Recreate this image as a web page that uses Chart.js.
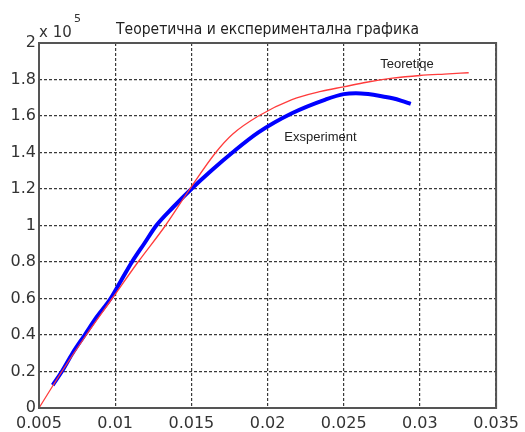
<!DOCTYPE html>
<html>
<head>
<meta charset="utf-8">
<script src="https://cdn.jsdelivr.net/npm/chart.js@4/dist/chart.umd.min.js"></script>
<style>
  html, body { margin: 0; padding: 0; background: #fff; }
  #wrap { width: 525px; height: 432px; position: relative; }
</style>
</head>
<body>
<div id="wrap"><canvas id="c" width="525" height="432"></canvas></div>
<script>
// Strain (x) and stress in units of 10^5 (y)
const theoryX = [0.005, 0.0065, 0.0081, 0.0098, 0.0115, 0.0133, 0.0149, 0.0166, 0.0177, 0.0194, 0.0216, 0.0235, 0.025, 0.0265, 0.0282, 0.030, 0.0316, 0.0332];
const theoryY = [0, 0.2, 0.4, 0.6, 0.8, 1.0, 1.2, 1.4, 1.5, 1.6, 1.69, 1.735, 1.76, 1.785, 1.807, 1.822, 1.83, 1.837];

const experimentX = [0.0059, 0.0065, 0.0072, 0.0080, 0.0088, 0.0097, 0.0104, 0.0111, 0.0119, 0.0127, 0.0138, 0.015, 0.0163, 0.0177, 0.0194, 0.0216, 0.0238, 0.025, 0.0258, 0.0266, 0.0274, 0.0282, 0.0288, 0.0294];
const experimentY = [0.126, 0.2, 0.3, 0.4, 0.5, 0.6, 0.7, 0.8, 0.9, 1.0, 1.1, 1.2, 1.3, 1.4, 1.51, 1.615, 1.69, 1.72, 1.725, 1.72, 1.71, 1.697, 1.683, 1.666];

const xTicks = [0.005, 0.01, 0.015, 0.02, 0.025, 0.03, 0.035];
const xTickLabels = ['0.005', '0.01', '0.015', '0.02', '0.025', '0.03', '0.035'];
const yTicks = [0, 0.2, 0.4, 0.6, 0.8, 1, 1.2, 1.4, 1.6, 1.8, 2];
const yTickLabels = ['0', '0.2', '0.4', '0.6', '0.8', '1', '1.2', '1.4', '1.6', '1.8', '2'];

const titleText = 'Теоретична и експериментална графика';
const theoryLabel = 'Teoretiqe';
const experimentLabel = 'Exsperiment';

const toPoints = (xs, ys) => xs.map((x, i) => ({ x: x, y: ys[i] }));

const decorations = {
  id: 'decorations',
  afterDraw(chart) {
    const ctx = chart.ctx;
    const a = chart.chartArea;
    const xs = chart.scales.x, ys = chart.scales.y;
    ctx.save();
    // frame
    ctx.strokeStyle = '#555';
    ctx.lineWidth = 2;
    ctx.setLineDash([]);
    ctx.strokeRect(a.left, a.top, a.right - a.left, a.bottom - a.top);
    // title
    ctx.fillStyle = '#222';
    ctx.textAlign = 'center';
    ctx.textBaseline = 'middle';
    ctx.font = '15.5px "DejaVu Sans Condensed", "DejaVu Sans", sans-serif';
    ctx.fillText(titleText, (a.left + a.right) / 2, 30);
    // exponent marker
    ctx.textAlign = 'left';
    ctx.font = '15px "DejaVu Sans", sans-serif';
    ctx.fillStyle = '#333';
    ctx.fillText('x 10', 39, 33);
    ctx.font = '11px "DejaVu Sans", sans-serif';
    ctx.fillText('5', 74, 19);
    // curve labels
    ctx.fillStyle = '#222';
    ctx.font = '13px "Liberation Sans", Arial, sans-serif';
    ctx.textAlign = 'left';
    ctx.fillText(theoryLabel, xs.getPixelForValue(0.0274), ys.getPixelForValue(1.88));
    ctx.fillText(experimentLabel, xs.getPixelForValue(0.0211), ys.getPixelForValue(1.48));
    ctx.restore();
  }
};

new Chart(document.getElementById('c'), {
  type: 'scatter',
  data: {
    datasets: [
      {
        label: theoryLabel,
        data: toPoints(theoryX, theoryY),
        showLine: true,
        borderColor: '#ff3c3c',
        borderWidth: 1.3,
        pointRadius: 0,
        cubicInterpolationMode: 'monotone',
        order: 1
      },
      {
        label: experimentLabel,
        data: toPoints(experimentX, experimentY),
        showLine: true,
        borderColor: '#0000ff',
        borderWidth: 4,
        pointRadius: 0,
        cubicInterpolationMode: 'monotone',
        order: 2
      }
    ]
  },
  options: {
    responsive: false,
    animation: false,
    layout: { padding: { top: 43, right: 27, left: 0, bottom: 0 } },
    plugins: { legend: { display: false }, tooltip: { enabled: false }, title: { display: false } },
    scales: {
      x: {
        type: 'linear',
        min: 0.005,
        max: 0.035,
        afterBuildTicks(axis) { axis.ticks = xTicks.map(v => ({ value: v })); },
        afterFit(axis) { axis.height = 24; },
        ticks: {
          autoSkip: false,
          maxRotation: 0,
          padding: 6,
          color: '#333',
          font: { family: '"DejaVu Sans", sans-serif', size: 16 },
          callback: (v) => xTickLabels[xTicks.findIndex(t => Math.abs(t - v) < 1e-9)]
        },
        grid: { color: '#3a3a3a', lineWidth: 1.2, drawTicks: false },
        border: { display: false, dash: [3, 2] }
      },
      y: {
        type: 'linear',
        min: 0,
        max: 2,
        afterBuildTicks(axis) { axis.ticks = yTicks.map(v => ({ value: v })); },
        afterFit(axis) { axis.width = 39; },
        ticks: {
          autoSkip: false,
          padding: 3,
          color: '#333',
          font: { family: '"DejaVu Sans", sans-serif', size: 16 },
          callback: (v) => yTickLabels[yTicks.findIndex(t => Math.abs(t - v) < 1e-9)]
        },
        grid: { color: '#3a3a3a', lineWidth: 1.2, drawTicks: false },
        border: { display: false, dash: [3, 2] }
      }
    }
  },
  plugins: [decorations]
});
</script>
</body>
</html>
